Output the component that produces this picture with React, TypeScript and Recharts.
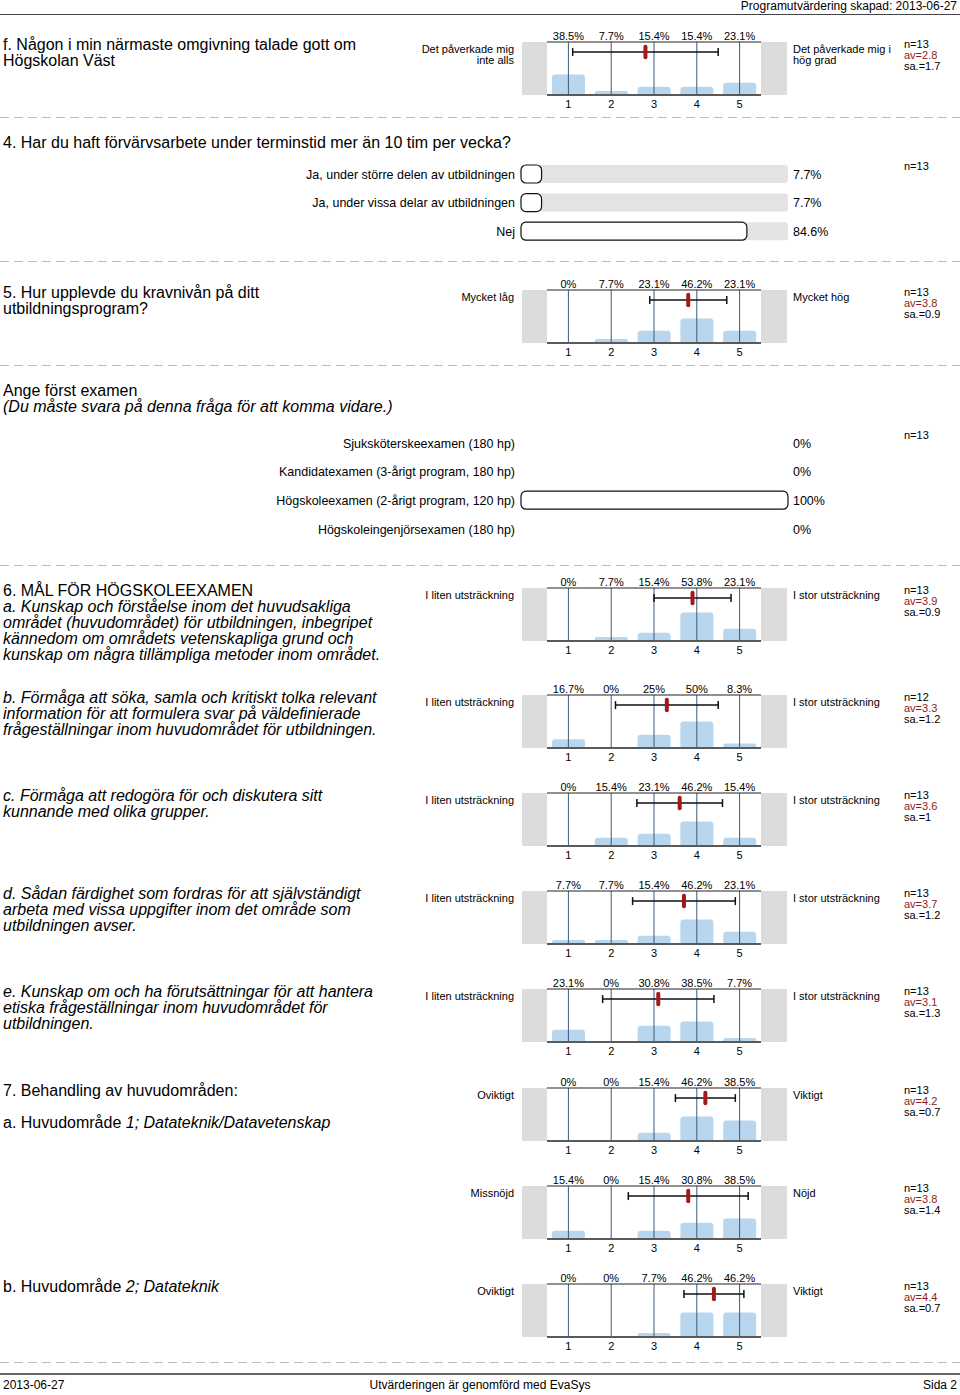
import React from "react";
import { ComposedChart, BarChart, Bar, XAxis, YAxis, ReferenceLine } from "recharts";

const FONT = '"Liberation Sans", Arial, Helvetica, sans-serif';

const scaleKeys = [1, 2, 3, 4, 5];

// histogram questions (percent per answer 1..5)
const fValues = [38.5, 7.7, 15.4, 15.4, 23.1];
const q5Values = [0, 7.7, 23.1, 46.2, 23.1];
const q6aValues = [0, 7.7, 15.4, 53.8, 23.1];
const q6bValues = [16.7, 0, 25, 50, 8.3];
const q6cValues = [0, 15.4, 23.1, 46.2, 15.4];
const q6dValues = [7.7, 7.7, 15.4, 46.2, 23.1];
const q6eValues = [23.1, 0, 30.8, 38.5, 7.7];
const q7a1Values = [0, 0, 15.4, 46.2, 38.5];
const q7a2Values = [15.4, 0, 15.4, 30.8, 38.5];
const q7bValues = [0, 0, 7.7, 46.2, 46.2];

const fStats = { n: 13, av: 2.8, sa: 1.7 };
const q5Stats = { n: 13, av: 3.8, sa: 0.9 };
const q6aStats = { n: 13, av: 3.9, sa: 0.9 };
const q6bStats = { n: 12, av: 3.3, sa: 1.2 };
const q6cStats = { n: 13, av: 3.6, sa: 1 };
const q6dStats = { n: 13, av: 3.7, sa: 1.2 };
const q6eStats = { n: 13, av: 3.1, sa: 1.3 };
const q7a1Stats = { n: 13, av: 4.2, sa: 0.7 };
const q7a2Stats = { n: 13, av: 3.8, sa: 1.4 };
const q7bStats = { n: 13, av: 4.4, sa: 0.7 };

// single choice questions
const q4Labels = [
  "Ja, under större delen av utbildningen",
  "Ja, under vissa delar av utbildningen",
  "Nej",
];
const q4Values = [7.7, 7.7, 84.6];

const examLabels = [
  "Sjuksköterskeexamen (180 hp)",
  "Kandidatexamen (3-årigt program, 180 hp)",
  "Högskoleexamen (2-årigt program, 120 hp)",
  "Högskoleingenjörsexamen (180 hp)",
];
const examValues = [0, 0, 100, 0];

type TProps = {
  x: number;
  y: number;
  size?: number;
  align?: "left" | "right" | "center";
  italic?: boolean;
  color?: string;
  children: React.ReactNode;
};

function T({ x, y, size = 11, align = "left", italic, color = "#000", children }: TProps) {
  const lh = Math.round(size * 1.2);
  const style: React.CSSProperties = {
    position: "absolute",
    top: y - lh / 2,
    lineHeight: lh + "px",
    fontSize: size,
    fontStyle: italic ? "italic" : "normal",
    color,
    whiteSpace: "nowrap",
    fontFamily: FONT,
  };
  if (align === "right") style.right = 960 - x;
  else if (align === "center") {
    style.left = x;
    style.transform = "translateX(-50%)";
  } else style.left = x;
  return <div style={style}>{children}</div>;
}

function Dash({ y }: { y: number }) {
  return (
    <svg style={{ position: "absolute", left: 0, top: y }} width={960} height={2}>
      <line x1={0} y1={0.5} x2={960} y2={0.5} stroke="#bdbdbd" strokeDasharray="9 5" />
    </svg>
  );
}

type Stats = { n: number; av: number; sa: number };

function Hist({
  y,
  values,
  stats,
  low,
  high,
}: {
  y: number;
  values: number[];
  stats: Stats;
  low: string[];
  high: string[];
}) {
  const data = values.map((v, i) => ({ k: scaleKeys[i], v, pct: `${v}%` }));
  const top = y + 7;
  const { av, sa, n } = stats;
  const sdY = 81;
  return (
    <>
      <div style={{ position: "absolute", left: 522, top, width: 25, height: 53, background: "#dcdcdc" }} />
      <div style={{ position: "absolute", left: 761, top, width: 26, height: 53, background: "#dcdcdc" }} />
      <div style={{ position: "absolute", left: 547, top: top - 14 }}>
        <ComposedChart width={214} height={85} data={data} margin={{ top: 0, right: 0, bottom: 0, left: 0 }}>
          <XAxis
            xAxisId="top"
            orientation="top"
            dataKey="k"
            type="category"
            height={14}
            tickSize={0}
            tickMargin={2}
            interval={0}
            tickLine={false}
            axisLine={{ stroke: "#222" }}
            tick={{ fontSize: 11, fill: "#000", fontFamily: FONT }}
            tickFormatter={(_v, i) => data[i]?.pct ?? ""}
          />
          <XAxis
            xAxisId="b"
            dataKey="k"
            type="number"
            domain={[0.5, 5.5]}
            ticks={scaleKeys}
            interval={0}
            height={18}
            tickSize={0}
            tickMargin={5}
            tickLine={false}
            axisLine={{ stroke: "#5a5a5a", strokeWidth: 2 }}
            tick={{ fontSize: 11, fill: "#000", fontFamily: FONT }}
          />
          <YAxis hide domain={[0, 100]} />
          <Bar xAxisId="b" dataKey="v" barSize={33} fill="#b9d6ef" radius={[3, 3, 0, 0]} isAnimationActive={false} />
          {scaleKeys.map((k) => (
            <ReferenceLine key={k} xAxisId="b" x={k} stroke="#3a5a7a" strokeWidth={1} />
          ))}
          <ReferenceLine
            xAxisId="b"
            segment={[
              { x: av - sa, y: sdY },
              { x: av + sa, y: sdY },
            ]}
            stroke="#111"
            strokeWidth={1.5}
          />
          <ReferenceLine
            xAxisId="b"
            segment={[
              { x: av - sa, y: sdY - 7.5 },
              { x: av - sa, y: sdY + 7.5 },
            ]}
            stroke="#111"
            strokeWidth={1.5}
          />
          <ReferenceLine
            xAxisId="b"
            segment={[
              { x: av + sa, y: sdY - 7.5 },
              { x: av + sa, y: sdY + 7.5 },
            ]}
            stroke="#111"
            strokeWidth={1.5}
          />
          <ReferenceLine
            xAxisId="b"
            segment={[
              { x: av, y: sdY - 10 },
              { x: av, y: sdY + 10 },
            ]}
            stroke="#a31818"
            strokeWidth={4}
            strokeLinecap="round"
          />
        </ComposedChart>
      </div>
      {low.map((t, i) => (
        <T key={"l" + i} x={514} y={y + 14 + i * 11} align="right">
          {t}
        </T>
      ))}
      {high.map((t, i) => (
        <T key={"h" + i} x={793} y={y + 14 + i * 11}>
          {t}
        </T>
      ))}
      <T x={904} y={y + 9}>n={n}</T>
      <T x={904} y={y + 20} color="#8b1c1c">
        av={av}
      </T>
      <T x={904} y={y + 31}>sa.={sa}</T>
    </>
  );
}

function Choice({ top, labels, values, n }: { top: number; labels: string[]; values: number[]; n: number }) {
  const data = labels.map((label, i) => ({ label, v: values[i], pct: `${values[i]}%` }));
  const rowH = 28.6;
  return (
    <>
      <div style={{ position: "absolute", left: 150, top }}>
        <BarChart
          layout="vertical"
          width={700}
          height={rowH * labels.length}
          data={data}
          margin={{ top: 0, right: 0, bottom: 0, left: 0 }}
        >
          <XAxis type="number" hide domain={[0, 100]} />
          <YAxis
            type="category"
            dataKey="label"
            width={371}
            axisLine={false}
            tickLine={false}
            tickSize={0}
            tickMargin={6}
            interval={0}
            tick={{ fontSize: 12.5, fill: "#000", fontFamily: FONT }}
          />
          <YAxis
            yAxisId="r"
            orientation="right"
            type="category"
            dataKey="label"
            width={62}
            axisLine={false}
            tickLine={false}
            tickSize={0}
            tickMargin={5}
            interval={0}
            tick={{ fontSize: 12.5, fill: "#000", fontFamily: FONT }}
            tickFormatter={(_v, i) => data[i]?.pct ?? ""}
          />
          <Bar
            dataKey="v"
            barSize={18}
            fill="#fff"
            stroke="#111"
            strokeWidth={1.2}
            radius={5}
            background={{ fill: "#e3e3e3", radius: 3 }}
            isAnimationActive={false}
          />
        </BarChart>
      </div>
      <T x={904} y={top + 7}>n={n}</T>
    </>
  );
}

function Title({ y, lines, italic }: { y: number; lines: React.ReactNode[]; italic?: boolean }) {
  return (
    <>
      {lines.map((l, i) => (
        <T key={i} x={3} y={y + i * 16.3} size={16} italic={italic}>
          {l}
        </T>
      ))}
    </>
  );
}

export default function App() {
  return (
    <div
      style={{
        position: "absolute",
        left: 0,
        top: 0,
        width: 960,
        height: 1395,
        background: "#fff",
        fontFamily: FONT,
        overflow: "hidden",
      }}
    >
      <T x={957} y={6} size={12} align="right">
        Programutvärdering skapad: 2013-06-27
      </T>
      <div style={{ position: "absolute", left: 0, top: 14, width: 960, height: 1, background: "#444" }} />

      <Title y={44} lines={["f. Någon i min närmaste omgivning talade gott om", "Högskolan Väst"]} />
      <Hist
        y={35}
        values={fValues}
        stats={fStats}
        low={["Det påverkade mig", "inte alls"]}
        high={["Det påverkade mig i", "hög grad"]}
      />
      <Dash y={117} />

      <Title y={142} lines={["4. Har du haft förvärvsarbete under terminstid mer än 10 tim per vecka?"]} />
      <Choice top={159.7} labels={q4Labels} values={q4Values} n={13} />
      <Dash y={261} />

      <Title y={292} lines={["5. Hur upplevde du kravnivån på ditt", "utbildningsprogram?"]} />
      <Hist y={283} values={q5Values} stats={q5Stats} low={["Mycket låg"]} high={["Mycket hög"]} />
      <Dash y={365} />

      <T x={3} y={390} size={16}>
        Ange först examen
      </T>
      <T x={3} y={406} size={16} italic>
        (Du måste svara på denna fråga för att komma vidare.)
      </T>
      <Choice top={428.7} labels={examLabels} values={examValues} n={13} />
      <Dash y={565} />

      <T x={3} y={590} size={16}>
        6. MÅL FÖR HÖGSKOLEEXAMEN
      </T>
      <Title
        y={606}
        italic
        lines={[
          "a. Kunskap och förståelse inom det huvudsakliga",
          "området (huvudområdet) för utbildningen, inbegripet",
          "kännedom om områdets vetenskapliga grund och",
          "kunskap om några tillämpliga metoder inom området.",
        ]}
      />
      <Hist y={581} values={q6aValues} stats={q6aStats} low={["I liten utsträckning"]} high={["I stor utsträckning"]} />

      <Title
        y={697}
        italic
        lines={[
          "b. Förmåga att söka, samla och kritiskt tolka relevant",
          "information för att formulera svar på väldefinierade",
          "frågeställningar inom huvudområdet för utbildningen.",
        ]}
      />
      <Hist y={688} values={q6bValues} stats={q6bStats} low={["I liten utsträckning"]} high={["I stor utsträckning"]} />

      <Title
        y={795}
        italic
        lines={["c. Förmåga att redogöra för och diskutera sitt", "kunnande med olika grupper."]}
      />
      <Hist y={786} values={q6cValues} stats={q6cStats} low={["I liten utsträckning"]} high={["I stor utsträckning"]} />

      <Title
        y={893}
        italic
        lines={[
          "d. Sådan färdighet som fordras för att självständigt",
          "arbeta med vissa uppgifter inom det område som",
          "utbildningen avser.",
        ]}
      />
      <Hist y={884} values={q6dValues} stats={q6dStats} low={["I liten utsträckning"]} high={["I stor utsträckning"]} />

      <Title
        y={991}
        italic
        lines={[
          "e. Kunskap om och ha förutsättningar för att hantera",
          "etiska frågeställningar inom huvudområdet för",
          "utbildningen.",
        ]}
      />
      <Hist y={982} values={q6eValues} stats={q6eStats} low={["I liten utsträckning"]} high={["I stor utsträckning"]} />

      <T x={3} y={1090} size={16}>
        7. Behandling av huvudområden:
      </T>
      <T x={3} y={1122} size={16}>
        a. Huvudområde <i>1; Datateknik/Datavetenskap</i>
      </T>
      <Hist y={1081} values={q7a1Values} stats={q7a1Stats} low={["Oviktigt"]} high={["Viktigt"]} />
      <Hist y={1179} values={q7a2Values} stats={q7a2Stats} low={["Missnöjd"]} high={["Nöjd"]} />

      <T x={3} y={1286} size={16}>
        b. Huvudområde <i>2; Datateknik</i>
      </T>
      <Hist y={1277} values={q7bValues} stats={q7bStats} low={["Oviktigt"]} high={["Viktigt"]} />
      <Dash y={1362} />

      <div style={{ position: "absolute", left: 0, top: 1373, width: 960, height: 2, background: "#666" }} />
      <T x={3} y={1385} size={12}>
        2013-06-27
      </T>
      <T x={480} y={1385} size={12} align="center">
        Utvärderingen är genomförd med EvaSys
      </T>
      <T x={957} y={1385} size={12} align="right">
        Sida 2
      </T>
    </div>
  );
}
